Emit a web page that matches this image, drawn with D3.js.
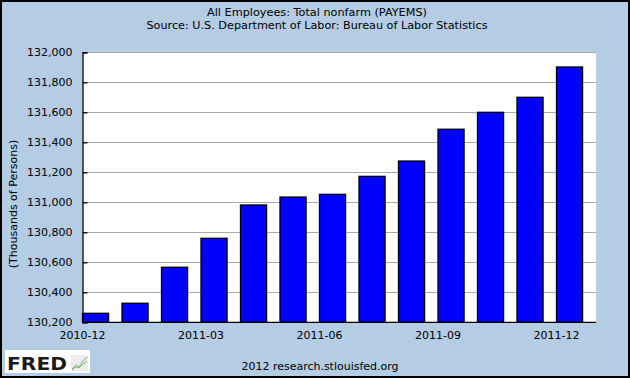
<!DOCTYPE html>
<html><head><meta charset="utf-8">
<script src="https://cdn.jsdelivr.net/npm/d3@7"></script>
<style>body{margin:0;padding:0;overflow:hidden}svg{display:block}</style>
</head><body>
<script>
const months = ["2010-12","2011-01","2011-02","2011-03","2011-04","2011-05","2011-06","2011-07","2011-08","2011-09","2011-10","2011-11","2011-12"];
const values = [130260,130327,130567,130760,130982,131035,131053,131173,131275,131487,131600,131700,131902];
const xTickLabels = ["2010-12","2011-03","2011-06","2011-09","2011-12"];
const yTicks = [130200,130400,130600,130800,131000,131200,131400,131600,131800,132000];
const title1 = "All Employees: Total nonfarm (PAYEMS)";
const title2 = "Source: U.S. Department of Labor: Bureau of Labor Statistics";
const yLabel = "(Thousands of Persons)";
const footer = "2012 research.stlouisfed.org";

const W = 630, H = 378;
const L = 82.5, R = 596, T = 52.3, B = 322.3;
const font = "DejaVu Sans, Verdana, sans-serif";

const svg = d3.select("body").append("svg").attr("width", W).attr("height", H);
svg.append("rect").attr("x",1).attr("y",1).attr("width",W-2).attr("height",H-2)
  .attr("fill","#b4cce4").attr("stroke","#000").attr("stroke-width",2);

const x = d3.scaleBand().domain(months).range([L, R]).paddingInner(0.34).paddingOuter(0.17).align(0);
const y = d3.scaleLinear().domain([130200, 132000]).range([B, T]);

svg.append("rect").attr("x",L).attr("y",T).attr("width",R-L).attr("height",B-T).attr("fill","#fff");

// gridlines
svg.append("g").selectAll("line").data(yTicks).join("line")
  .attr("x1",L).attr("x2",R).attr("y1",d=>Math.round(y(d))+0.5).attr("y2",d=>Math.round(y(d))+0.5)
  .attr("stroke","#aaaaaa").attr("stroke-width",1);

// bars
svg.append("g").selectAll("rect").data(values).join("rect")
  .attr("x",(d,i)=>x(months[i]))
  .attr("width",x.bandwidth())
  .attr("y",d=>y(d))
  .attr("height",d=>B-y(d))
  .attr("fill","#0000ff").attr("stroke","#000").attr("stroke-width",1.3);

// y axis
const yAxis = d3.axisLeft(y).tickValues(yTicks).tickFormat(d3.format(",")).tickSize(-5).tickPadding(10);
const gy = svg.append("g").attr("transform",`translate(${L},0)`).call(yAxis);
gy.select(".domain").attr("stroke","#000").attr("stroke-width",1.3);
gy.selectAll(".tick line").attr("stroke","#000").attr("stroke-width",1.3);
gy.selectAll("text").attr("font-family",font).attr("font-size",11).attr("fill","#000");

// x axis
const xAxis = d3.axisBottom(x).tickValues(xTickLabels).tickSize(0).tickPadding(9);
const gx = svg.append("g").attr("transform",`translate(${-x.bandwidth()/2},${B})`).call(xAxis);
gx.select(".domain").remove();
gx.selectAll("text").attr("font-family",font).attr("font-size",11).attr("fill","#000");
svg.append("line").attr("x1",L).attr("x2",R).attr("y1",B).attr("y2",B).attr("stroke","#000").attr("stroke-width",1.3);

// titles
svg.append("text").attr("x",317).attr("y",16).attr("text-anchor","middle")
  .attr("font-family",font).attr("font-size",11).attr("textLength",220).attr("lengthAdjust","spacingAndGlyphs").text(title1);
svg.append("text").attr("x",317).attr("y",29).attr("text-anchor","middle")
  .attr("font-family",font).attr("font-size",11).attr("textLength",341).attr("lengthAdjust","spacingAndGlyphs").text(title2);
svg.append("text").attr("transform",`translate(16.5,204) rotate(-90)`).attr("text-anchor","middle")
  .attr("font-family",font).attr("font-size",11).text(yLabel);
svg.append("text").attr("x",320).attr("y",370).attr("text-anchor","middle")
  .attr("font-family",font).attr("font-size",11).attr("textLength",157).attr("lengthAdjust","spacingAndGlyphs").text(footer);

// FRED logo
const lg = svg.append("g");
lg.append("rect").attr("x",5).attr("y",350).attr("width",85).attr("height",23).attr("fill","#fff");
lg.append("text").attr("x",7).attr("y",370).attr("font-family","DejaVu Sans, sans-serif")
  .attr("font-weight","bold").attr("font-size",18).attr("fill","#1a1a1a").attr("textLength",60).attr("lengthAdjust","spacingAndGlyphs").text("FRED");
lg.append("rect").attr("x",71).attr("y",355).attr("width",17).attr("height",16).attr("fill","#eeeeee");
lg.append("path").attr("d","M72,369 L76,365 L79,367 L83,361 L87,357").attr("fill","none").attr("stroke","#7aa0c8").attr("stroke-width",1);
lg.append("path").attr("d","M72,370 L76,367 L79,368 L83,364 L87,361").attr("fill","none").attr("stroke","#8ab84a").attr("stroke-width",1);
</script>
</body></html>
